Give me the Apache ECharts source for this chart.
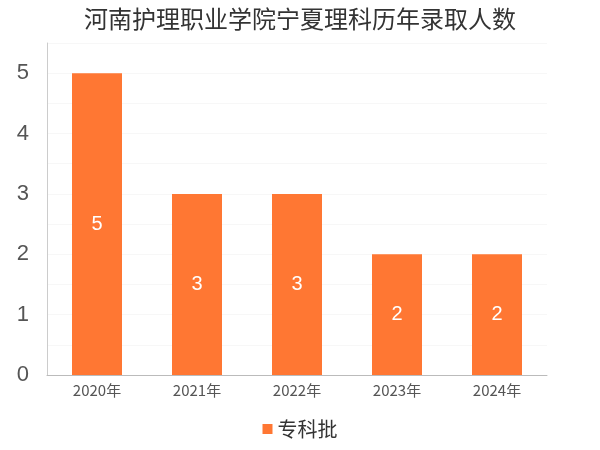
<!DOCTYPE html>
<html>
<head>
<meta charset="utf-8">
<script src="https://cdn.jsdelivr.net/npm/echarts@6/dist/echarts.min.js"></script>
<style>html,body{margin:0;padding:0;}#chart{width:600px;height:450px;}</style>
</head>
<body>
<div id="chart"></div>
<script>
var years = ["2020年", "2021年", "2022年", "2023年", "2024年"];
var counts = [5, 3, 3, 2, 2];
var seriesName = "专科批";

var myChart = echarts.init(document.getElementById("chart"), null, { renderer: "canvas" });
var option = {
  title: {
    text: "河南护理职业学院宁夏理科历年录取人数",
    left: "center",
    top: 2,
    textStyle: { fontSize: 24, fontWeight: "normal", color: "#333", fontFamily: "Noto Sans CJK SC" }
  },
  legend: {
    bottom: 6,
    itemWidth: 10,
    itemHeight: 10,
    icon: "rect",
    textStyle: { fontSize: 20, color: "#333", fontFamily: "Noto Sans CJK SC" },
    data: [seriesName]
  },
  grid: { left: 47, right: 53, top: 43, bottom: 75 },
  xAxis: {
    type: "category",
    data: years,
    axisLine: { lineStyle: { color: "#bbb" } },
    axisTick: { show: false },
    axisLabel: { fontSize: 15, color: "#555", fontFamily: "Noto Sans CJK SC" }
  },
  yAxis: {
    type: "value",
    min: 0,
    max: 5.5,
    interval: 0.5,
    axisLine: { show: true, lineStyle: { color: "#ccc" } },
    axisLabel: {
      fontSize: 22, color: "#555", margin: 18,
      formatter: function (v) { return v % 1 === 0 ? String(v) : ""; }
    },
    splitLine: { lineStyle: { color: "#f7f7f7" } }
  },
  series: [{
    name: seriesName,
    type: "bar",
    data: counts,
    barWidth: "50%",
    itemStyle: { color: "#FF7733" },
    label: { show: true, position: "inside", color: "#fff", fontSize: 20 }
  }]
};
myChart.setOption(option);
</script>
</body>
</html>
